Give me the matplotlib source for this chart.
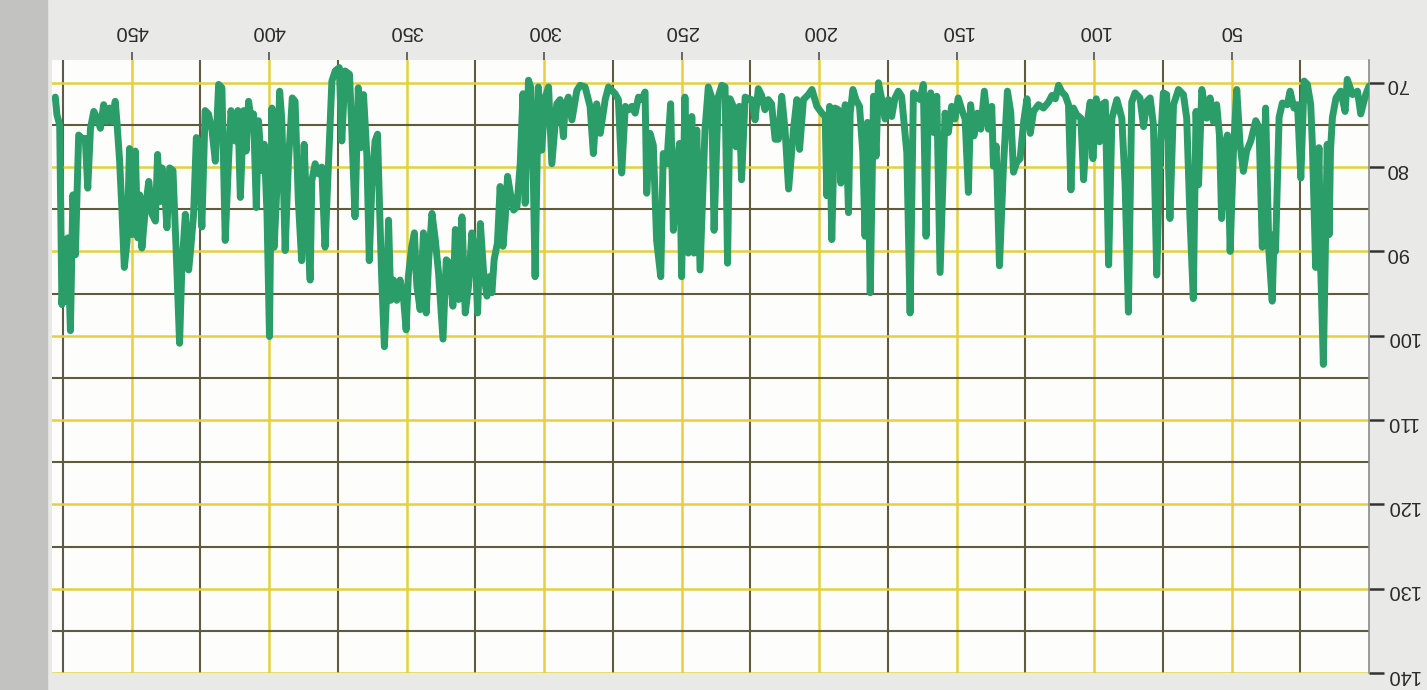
import numpy as np
import matplotlib.pyplot as plt
from matplotlib.patches import Rectangle
from matplotlib.ticker import FixedLocator

# sample positions and level readings (left-to-right = 0 -> 478)
sample = [
    0, 1.2, 3, 4.2, 6, 7.9, 8.7, 10.3, 12, 13.3, 14, 14.5, 15.2, 16.6, 17.6, 18.2, 19.4, 20.6,
    21.2, 22.4, 23.6, 24.8, 26, 27.3, 28.7, 29.7, 31.5, 32.7, 34, 34.5, 35.2, 36.4, 37.6, 38.8,
    40, 41.2, 43, 44.5, 45.7, 46.9, 48.1, 49.3, 50.5, 51.5, 52.4, 53.6, 54.4, 55.4, 56.6, 57.8,
    59, 60.8, 62, 62.9, 63.9, 65.1, 66.3, 67.5, 69.3, 71.1, 72.4, 73.6, 74.8, 76, 77.2, 78.4,
    79.6, 80.8, 82, 83.3, 85.1, 86.3, 87.5, 88.7, 89.9, 91.7, 93.5, 94.7, 95.9, 97.2, 98, 99.2,
    100.4, 101.4, 102.6, 103.8, 104.8, 106.3, 107.5, 108.4, 109.3, 110.5, 111.7, 112.9, 114.1,
    115.3, 116.6, 118.4, 120.2, 122, 123.2, 124.4, 125.6, 126.9, 128.1, 129.3, 130.3, 131.5,
    133, 134.4, 135.6, 136.6, 137.2, 138.4, 139.9, 141.2, 142.4, 143.7, 144.9, 145.7, 146.9,
    148.1, 149.4, 150.6, 151.8, 153, 154.2, 156, 157.2, 158.4, 159.4, 160.3, 161.1, 162.1,
    163.3, 164.5, 165.7, 166.9, 168.1, 170, 171.2, 172.4, 173.6, 174.8, 176, 177.2, 178.4,
    179.3, 180.2, 181.4, 182.4, 183.3, 184.1, 185.3, 186.6, 187.7, 188.7, 189.3, 190.5, 192.1,
    193, 194.2, 195.4, 196.2, 197.2, 197.8, 199, 200.8, 202.6, 203.9, 205.7, 207.1, 208.1,
    209.3, 211.1, 212.4, 213.6, 214.8, 216, 217.3, 218.5, 219.7, 220.9, 222.1, 223.3, 224.5,
    225.7, 226.9, 228.2, 229, 230.2, 231.2, 232.4, 233.3, 234.2, 235.4, 236.7, 238.2, 239.1,
    240.3, 241.5, 243.3, 244.5, 245.5, 246.3, 247.6, 248.8, 250, 250.8, 251.8, 253, 254, 255.4,
    256.7, 257.6, 259.1, 260.3, 261.5, 262.7, 263.3, 264.5, 265.7, 266.9, 268.1, 269.3, 270.5,
    271.8, 273, 274.2, 275.4, 276.6, 277.8, 279.6, 280.9, 282.1, 283.3, 285.1, 286.9, 288.1,
    289.9, 291.2, 292.4, 293, 294.2, 295.4, 297.2, 298.4, 299.6, 300.9, 302.1, 303.3, 304.1,
    304.9, 305.7, 306.9, 307.7, 308.7, 309.9, 311.1, 312.3, 313.3, 314.2, 315, 316, 317, 318.2,
    319, 319.9, 320.8, 322, 323.2, 324.2, 325.1, 326.3, 327.5, 328.7, 329.9, 331.1, 332.3,
    333.2, 334.4, 335.6, 336.8, 338.4, 339.6, 340.8, 342, 342.9, 343.9, 345.1, 346.3, 347.2,
    348.2, 349.4, 350.2, 351.2, 352.4, 353.6, 354.8, 355.8, 356.6, 357.3, 358.1, 359.1, 359.9,
    360.6, 361.5, 362.7, 363.6, 364.5, 365.7, 366.7, 367.6, 368.8, 370, 370.8, 372.4, 373.6,
    374.5, 376, 377.2, 378.5, 379.7, 380.9, 382.1, 383.3, 384.5, 385.1, 386.3, 387.3, 388.2,
    389.4, 390.6, 391.6, 393, 394.2, 395.4, 396.2, 397.2, 398.2, 399, 399.9, 400.8, 401.8,
    402.7, 403.9, 404.7, 405.7, 406.5, 407.5, 408.4, 409.3, 410.5, 411.4, 412.4, 413.9, 414.8,
    416, 417.2, 418.4, 419.6, 420.8, 422.1, 423.3, 424.5, 425.7, 426.5, 427.5, 428.5, 429.3,
    430.5, 431.8, 432.6, 433.8, 435, 436.2, 437.2, 438.1, 439, 439.8, 440.6, 441.4, 442.6,
    443.8, 445, 446.3, 447.1, 447.8, 448.7, 449.9, 450.8, 451.7, 452.7, 453.5, 454.4, 455.4,
    456, 457.2, 458, 459, 460.2, 461.4, 462.6, 463.8, 465, 466, 466.9, 468.1, 469.3, 470.5,
    471.4, 472.3, 473.3, 474.1, 474.8, 475.4, 476.2, 477.2, 477.8,
]
level = [
    70.4, 71.4, 73.7, 71.0, 71.4, 69.6, 73.4, 71.0, 71.8, 74.1, 78.0, 88.0, 77.3, 103.4, 91.5, 77.7, 91.9, 77.3,
    72.6, 70.2, 69.8, 81.3, 72.6, 73.0, 71.0, 72.6, 72.4, 74.1, 90.0, 88.0, 95.9, 90.0, 73.0, 89.5,
    75.3, 74.5, 76.9, 78.1, 80.5, 77.3, 70.8, 78.1, 90.0, 76.2, 77.3, 86.1, 76.2, 72.6, 74.6, 71.8,
    74.2, 70.8, 82.1, 73.4, 95.6, 86.1, 74.2, 71.4, 70.8, 72.6, 86.1, 71.4, 71.2, 78.1, 92.8, 75.0,
    71.8, 72.2, 75.2, 71.8, 71.2, 72.3, 97.2, 82.1, 74.2, 72.0, 74.2, 91.6, 72.3, 72.6, 77.0, 71.9,
    79.0, 72.3, 75.0, 81.5, 74.2, 73.8, 73.0, 82.7, 72.6, 71.5, 71.1, 70.3, 71.9,
    71.5, 72.3, 73.0, 72.6, 73.4, 76.0, 71.9, 74.6, 79.0, 79.4, 80.6, 73.5, 71.0,
    80.3, 91.7, 77.5, 79.9, 72.8, 75.5, 71.0, 75.5, 73.6, 76.3, 72.6, 83.0, 74.3,
    73.2, 71.8, 74.3, 72.8, 75.9, 73.6, 92.5, 71.6, 75.9, 71.2, 72.0, 88.2, 70.2,
    72.0, 71.6, 71.2, 97.3, 78.3, 71.6, 71.0, 71.8, 74.0, 72.0, 74.3, 72.0, 70.0,
    78.7, 71.6, 94.9, 74.7, 88.2, 78.3, 72.8, 72.0, 70.8, 73.6, 85.4, 72.6, 81.9,
    73.2, 73.0, 88.6, 72.8, 83.4, 74.0, 73.6, 72.8, 70.8, 71.4, 72.0, 77.9, 72.0,
    75.5, 82.6, 75.5, 71.6, 76.7, 76.7, 72.5, 72.0, 73.2, 71.5, 70.7, 74.4, 72.0,
    71.9, 71.7, 81.5, 72.8, 77.6, 72.8, 71.9, 91.4, 70.5, 70.3, 71.7, 87.5, 71.7,
    70.5, 75.6, 92.2, 75.6, 90.2, 74.0, 90.2, 71.7, 93.0, 77.2, 80.0, 87.5, 72.5, 79.6,
    78.4, 93.0, 88.7, 77.4, 76.0, 83.1, 71.1, 72.0, 71.7, 73.6, 72.8, 73.2, 72.8,
    80.7, 72.0, 71.3, 70.9, 70.5, 72.0, 76.0, 72.5, 78.4, 72.8, 70.5, 70.3, 70.9,
    74.4, 71.7, 72.8, 76.4, 72.0, 72.5, 79.6, 70.5, 71.7, 78.0, 70.5, 93.0, 78.4,
    70.5, 69.7, 84.3, 71.3, 79.6, 84.7, 85.1, 83.1, 81.1, 86.3, 89.4, 82.3, 89.0, 91.0,
    94.9, 93.0, 95.3, 92.6, 86.7, 97.3, 90.2, 87.8, 94.1, 97.3, 85.9, 95.7, 87.4,
    96.5, 91.4, 91.0, 100.4, 92.6, 88.6, 85.5, 91.0, 97.3, 87.8, 96.9, 94.1, 87.8,
    89.5, 93.0, 99.3, 95.4, 93.4, 95.8, 93.4, 95.8, 86.3, 95.0, 101.3, 93.0, 84.4,
    76.1, 76.9, 82.4, 91.1, 78.5, 71.4, 77.7, 70.6, 85.9, 75.3, 69.0, 68.6, 76.9,
    68.2, 68.6, 69.8, 80.0, 89.5, 80.0, 80.8, 79.6, 81.6, 93.4, 85.6, 77.3, 91.1,
    84.0, 72.2, 71.8, 79.3, 89.9, 74.5, 71.0, 82.4, 89.5, 73.0, 100.1, 85.6, 77.3,
    80.4, 74.5, 84.8, 73.7, 74.5, 72.2, 78.1, 73.3, 83.6, 73.3, 76.9, 73.3, 79.3,
    88.7, 70.6, 70.2, 79.3, 75.7, 73.7, 73.3, 87.1, 76.9, 76.5, 85.6, 89.5, 92.2,
    85.6, 92.2, 100.9, 90.3, 80.4, 80.1, 87.2, 82.5, 80.1, 84.1, 78.5, 86.4, 85.6,
    81.7, 84.8, 89.6, 83.3, 88.4, 78.1, 88.0, 77.8, 88.8, 91.9, 85.6, 79.3, 74.6,
    72.2, 74.6, 73.0, 74.6, 72.6, 75.4, 74.2, 73.4, 75.4, 82.5, 76.6, 76.6, 76.2, 90.4,
    83.3, 99.4, 88.4, 95.9, 92.7, 96.3, 75.0, 73.8, 71.7,
]

x_ticks = [50, 100, 150, 200, 250, 300, 350, 400, 450]
x_minor = [25, 75, 125, 175, 225, 275, 325, 375, 425, 475]
y_ticks = [70, 80, 90, 100, 110, 120, 130, 140]
y_minor = [75, 85, 95, 105, 115, 125, 135]

plt.rcParams['font.family'] = ['Liberation Sans', 'DejaVu Sans']

fig = plt.figure(figsize=(14.27, 6.9), dpi=100, facecolor='#e9e9e7')
# darker paper edge on the left of the photo
fig.patches.append(Rectangle((0, 0), 0.033, 1, transform=fig.transFigure,
                             color='#c2c2c0', zorder=0))

ax = fig.add_axes([52 / 1427, 17 / 690, (1369 - 52) / 1427, (673 - 60) / 690])
ax.set_facecolor('#fdfdfc')

ax.plot(sample, level, color='#2a9d68', lw=5.0, solid_joinstyle='round',
        solid_capstyle='round', zorder=3)

# the photo is upside down: x runs right-to-left, y runs top-to-bottom
ax.set_xlim(479, 0)
ax.set_ylim(140, 67.3)

ax.xaxis.tick_top()
ax.yaxis.tick_right()
ax.set_xticks(x_ticks)
ax.set_yticks(y_ticks)
ax.xaxis.set_minor_locator(FixedLocator(x_minor))
ax.yaxis.set_minor_locator(FixedLocator(y_minor))

ax.grid(which='major', color='#e6cf40', lw=1.8, zorder=1)
ax.grid(which='minor', color='#5f5b3e', lw=1.5, zorder=1)
ax.set_axisbelow(True)

ax.tick_params(which='minor', length=0)
ax.tick_params(axis='x', which='major', length=6, width=1.4, color='#666666',
               labelsize=14.5, labelcolor='#2b2b2b', pad=8)
ax.tick_params(axis='y', which='major', length=11, width=1.8, color='#333333',
               labelsize=14.5, labelcolor='#2b2b2b', pad=1)
for lab in ax.get_xticklabels() + ax.get_yticklabels():
    lab.set_rotation(180)

for side in ['top', 'left', 'bottom']:
    ax.spines[side].set_visible(False)
ax.spines['right'].set_color('#8a8a8a')
ax.spines['right'].set_linewidth(1.2)

fig.savefig('out.png', dpi=100, facecolor=fig.get_facecolor())
